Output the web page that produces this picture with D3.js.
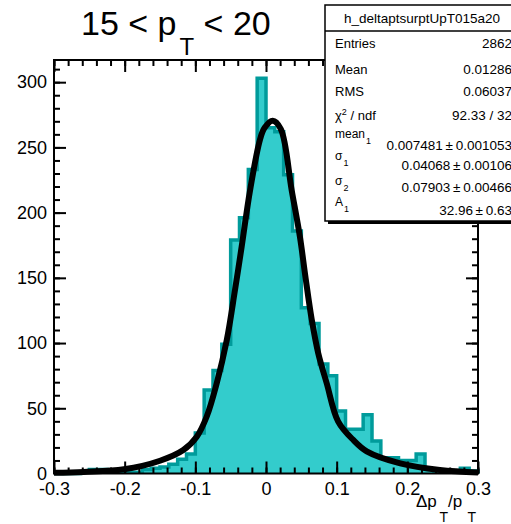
<!DOCTYPE html>
<html>
<head>
<meta charset="utf-8">
<script src="https://cdn.jsdelivr.net/npm/d3@7"></script>
<style>
  body { margin: 0; background: #fff; }
  text { font-family: "Liberation Sans", Arial, Helvetica, sans-serif; fill: #000; }
</style>
</head>
<body>
<div class="chart"></div>
<script>
var svgWidth = 511;
var svgHeight = 524;

var margin = {
  top: 60,
  right: 33,
  bottom: 50.5,
  left: 54
};

var width = svgWidth - margin.left - margin.right;
var height = svgHeight - margin.top - margin.bottom;

// histogram definition (like a TH1F: 48 bins from -0.3 to 0.3)
var xMin = -0.3;
var xMax = 0.3;
var nBins = 48;
var yMax = 317;

// bin contents, left to right
var counts = [
  0, 0, 0, 1, 3, 3, 2, 2, 1, 1, 3, 4,
  5, 7, 11, 15, 31, 64, 79, 99, 179, 196, 233, 303,
  265, 262, 229, 186, 127, 115, 84, 75, 48, 34, 34, 45,
  25, 12, 12, 10, 10, 15, 3, 2, 2, 2, 4, 2
];

// fit curve
var fitX = [-0.3, -0.258, -0.201, -0.15, -0.117, -0.098, -0.084, -0.0698, -0.0556, -0.0439,
  -0.0344, -0.0226, -0.0085, -0.002, 0.0095, 0.021, 0.0364, 0.048, 0.056, 0.0647, 0.074,
  0.086, 0.102, 0.1235, 0.1425, 0.19, 0.246, 0.3];
var fitY = [0.5, 1.2, 3.2, 9.8, 18, 28.2, 43.5, 69, 102, 140.6,
  174, 217, 256, 265, 270.4, 264, 217, 181.5, 150, 118, 92,
  69, 40, 25.7, 17, 7.8, 2.7, 0.8];

// axis ticks
var xMajor = [-0.3, -0.2, -0.1, 0, 0.1, 0.2, 0.3];
var xMinor = d3.range(-15, 16).map(i => i * 0.02);
var yMajor = [0, 50, 100, 150, 200, 250, 300];
var yMinor = d3.range(0, 32).map(i => i * 10);

// stats box
var statsTitle = "h_deltaptsurptUpT015a20";
var statNames = ["Entries", "Mean", "RMS", "\u03c7", "mean", "\u03c3", "\u03c3", "A"];
var statSup = ["", "", "", "2", "", "", "", ""];
var statTail = ["", "", "", " / ndf", "", "", "", ""];
var statSub = ["", "", "", "", "1", "1", "2", "1"];
var statValues = ["2862", "0.01286", "0.06037", "92.33 / 32",
  "0.007481\u2009\u00b1\u20090.001053", "0.04068\u2009\u00b1\u20090.00106",
  "0.07903\u2009\u00b1\u20090.00466", "32.96\u2009\u00b1\u20090.63"];

var svg = d3
  .select(".chart")
  .append("svg")
  .attr("width", svgWidth)
  .attr("height", svgHeight);

var chartGroup = svg.append("g")
  .attr("transform", `translate(${margin.left}, ${margin.top})`);

var xScale = d3.scaleLinear().domain([xMin, xMax]).range([0, width]);
var yScale = d3.scaleLinear().domain([0, yMax]).range([height, 0]);

// histogram as a step outline
var binW = (xMax - xMin) / nBins;
var steps = [[xMin, 0]];
counts.forEach(function(c, i) {
  steps.push([xMin + i * binW, c]);
  steps.push([xMin + (i + 1) * binW, c]);
});
steps.push([xMax, 0]);

var stepLine = d3.line()
  .x(d => xScale(d[0]))
  .y(d => yScale(d[1]));

chartGroup.append("path")
  .attr("d", stepLine(steps) + "Z")
  .attr("fill", "#33cccc")
  .attr("stroke", "none");

chartGroup.append("path")
  .attr("d", stepLine(steps))
  .attr("fill", "none")
  .attr("stroke", "#009b9b")
  .attr("stroke-width", 3.5)
  .attr("stroke-linejoin", "miter");

// fit function
var fitLine = d3.line()
  .x((d, i) => xScale(fitX[i]))
  .y(d => yScale(d))
  .curve(d3.curveCatmullRom);

chartGroup.append("path")
  .attr("d", fitLine(fitY))
  .attr("fill", "none")
  .attr("stroke", "#000")
  .attr("stroke-width", 6)
  .attr("stroke-linejoin", "round");

// axes: ticks point inward on all four sides
function tickAxis(axis, values, size) {
  return axis.tickValues(values).tickSize(size).tickFormat("");
}

var xFmt = d => String(+d.toFixed(1));

var axBottom = chartGroup.append("g").attr("transform", `translate(0, ${height})`);
axBottom.call(tickAxis(d3.axisBottom(xScale), xMinor, -6));
axBottom.append("g").attr("class", "labels").call(d3.axisBottom(xScale).tickValues(xMajor).tickSize(-12)
  .tickPadding(9).tickFormat(xFmt));

var axTop = chartGroup.append("g");
axTop.call(tickAxis(d3.axisTop(xScale), xMinor, -6));
axTop.append("g").call(tickAxis(d3.axisTop(xScale), xMajor, -12));

var axLeft = chartGroup.append("g");
axLeft.call(tickAxis(d3.axisLeft(yScale), yMinor, -6));
axLeft.append("g").attr("class", "labels").call(d3.axisLeft(yScale).tickValues(yMajor).tickSize(-12)
  .tickPadding(7).tickFormat(d3.format("d")));

var axRight = chartGroup.append("g").attr("transform", `translate(${width}, 0)`);
axRight.call(tickAxis(d3.axisRight(yScale), yMinor, -6));
axRight.append("g").call(tickAxis(d3.axisRight(yScale), yMajor, -12));

chartGroup.selectAll(".domain").remove();
chartGroup.selectAll(".tick line").attr("stroke", "#000").attr("stroke-width", 2);
chartGroup.selectAll(".labels").attr("font-size", null).attr("font-family", null);
chartGroup.selectAll(".tick text")
  .style("font-family", "'Liberation Sans', Arial, sans-serif")
  .style("font-size", "18px")
  .attr("fill", "#000");

// frame
chartGroup.append("rect")
  .attr("width", width)
  .attr("height", height)
  .attr("fill", "none")
  .attr("stroke", "#000")
  .attr("stroke-width", 2);

// x axis title: Delta p_T / p_T
var xt = svg.append("g").attr("font-size", 17);
xt.append("text").attr("x", 416).attr("y", 507).text("\u0394p");
xt.append("text").attr("x", 439.5).attr("y", 522).attr("font-size", 14).text("T");
xt.append("text").attr("x", 448).attr("y", 507).text("/p");
xt.append("text").attr("x", 467.5).attr("y", 522).attr("font-size", 14).text("T");

// histogram title
var title = svg.append("text")
  .attr("x", 81)
  .attr("y", 35)
  .attr("font-size", 34);
title.append("tspan").text("15 < p");
title.append("tspan").attr("dx", 3).attr("dy", 20).attr("font-size", 24).text("T");
title.append("tspan").attr("dy", -20).text(" < 20");

// stats box with shadow
var box = svg.append("g");
box.append("rect")
  .attr("x", 328).attr("y", 8)
  .attr("width", 200).attr("height", 216)
  .attr("fill", "#000");
box.append("rect")
  .attr("x", 325).attr("y", 5)
  .attr("width", 200).attr("height", 216)
  .attr("fill", "#fff")
  .attr("stroke", "#000")
  .attr("stroke-width", 1.5);
box.append("line")
  .attr("x1", 325).attr("x2", 511)
  .attr("y1", 31).attr("y2", 31)
  .attr("stroke", "#000")
  .attr("stroke-width", 1.5);
box.append("text")
  .attr("x", 422).attr("y", 23)
  .attr("text-anchor", "middle")
  .attr("font-size", 13.5)
  .text(statsTitle);

var labelY = [48, 73.5, 96, 119.5, 138, 160, 185, 206];
var valueY = [48, 73.5, 96, 119.5, 149.5, 169.5, 192, 214.5];

statNames.forEach(function(name, i) {
  var small = statSub[i] !== "";
  var lab = box.append("text")
    .attr("x", 335)
    .attr("y", labelY[i])
    .attr("font-size", small ? 12 : 13);
  lab.append("tspan").text(name);
  if (statSup[i]) {
    lab.append("tspan").attr("dy", -5).attr("font-size", 9).text(statSup[i]);
    lab.append("tspan").attr("dy", 5).text(statTail[i]);
  }
  if (small) {
    lab.append("tspan").attr("dx", 1).attr("dy", 5.5).attr("font-size", 9).text(statSub[i]);
  }
  box.append("text")
    .attr("x", 512)
    .attr("y", valueY[i])
    .attr("text-anchor", "end")
    .attr("font-size", 13.5)
    .text(statValues[i]);
});
</script>
</body>
</html>
